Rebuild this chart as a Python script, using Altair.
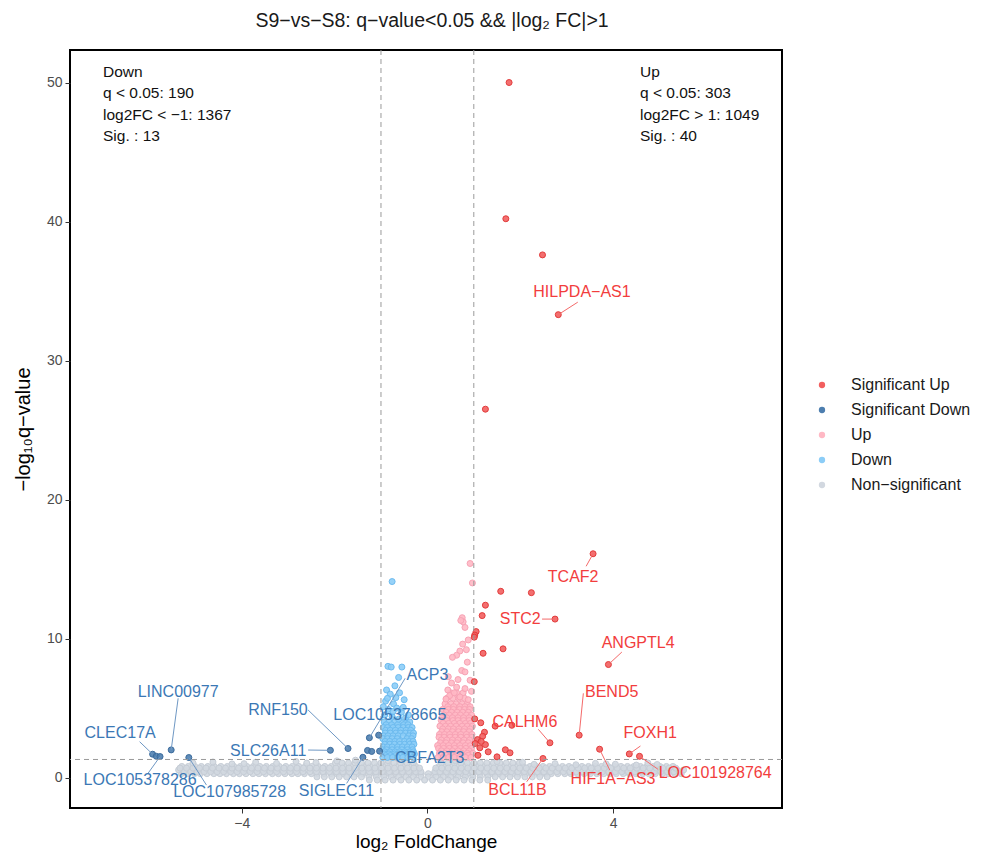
import altair as alt
import pandas as pd

# ---------------- data ----------------
groups_order = ["Significant Up", "Significant Down", "Up", "Down", "Non−significant"]
fill_colors = ["#F25F5F", "#4D7EAF", "#FFB8C4", "#8CCDF7", "#D2D8E0"]
stroke_colors = ["#E23B3B", "#3B6B9C", "#F7A3B5", "#6DBBEF", "#C6CDD6"]

# significant up (40)
sig_up_x = [1.76, 1.69, 2.48, 2.82, 1.25, 3.57, 1.58, 2.24, 1.25, 1.18, 2.75, 1.05, 1.02, 1.01,
            1.63, 1.20, 3.90, 1.01, 1.02, 1.15, 1.46, 1.82, 3.27, 1.23, 1.19, 1.08, 1.03, 1.25,
            1.13, 2.64, 1.68, 1.78, 1.50, 1.09, 3.71, 4.35, 4.57, 2.49, 1.31, 1.16]
sig_up_y = [50.0, 40.2, 37.6, 33.3, 26.5, 16.1, 13.4, 13.3, 12.4, 11.65, 11.4, 10.5, 10.25, 10.1,
            9.26, 8.94, 8.13, 6.9, 4.22, 3.94, 3.7, 3.76, 3.05, 3.26, 2.97, 2.73, 2.45, 2.37,
            2.14, 2.5, 2.0, 1.78, 1.49, 1.6, 2.04, 1.7, 1.53, 1.37, 1.85, 2.6]

# significant down (13)
sig_dn_x = [-5.92, -5.84, -5.76, -5.52, -5.14, -2.09, -1.71, -1.39, -1.29, -1.20, -1.03, -1.25, -1.05]
sig_dn_y = [1.68, 1.53, 1.51, 1.99, 1.44, 1.96, 2.09, 1.46, 1.95, 1.88, 1.90, 2.86, 3.05]

# down (q<0.05, -1<FC<0): sparse points + dense rows
down_sparse_x = [-0.76, -0.85, -0.78, -0.55, -0.62, -0.70, -0.88, -0.80, -0.60, -0.50, -0.90, -0.73,
                 -0.66, -0.84, -0.56, -0.92, -0.76, -0.47, -0.62, -0.95, -0.68, -0.52, -0.86,
                 -0.41, -0.74]
down_sparse_y = [14.1, 8.0, 7.95, 7.95, 7.2, 6.6, 6.3, 6.0, 6.1, 5.6, 5.5, 5.3,
                 5.0, 4.9, 4.7, 4.5, 4.4, 4.3, 4.2, 5.1, 5.75, 5.05, 5.7, 4.5, 4.75]
down_rows_y = [4.0, 3.8, 3.6, 3.4, 3.2, 3.0, 2.8, 2.6, 2.4, 2.2, 2.0, 1.85, 1.7, 1.58, 1.45]
down_rows_x = [
    [-0.93, -0.83, -0.70, -0.58, -0.45, -0.38],
    [-0.89, -0.77, -0.64, -0.51, -0.42],
    [-0.95, -0.86, -0.74, -0.63, -0.52, -0.41, -0.33],
    [-0.90, -0.80, -0.69, -0.57, -0.46, -0.36],
    [-0.91, -0.80, -0.68, -0.58, -0.47, -0.37, -0.30],
    [-0.94, -0.85, -0.74, -0.63, -0.52, -0.40, -0.31],
    [-0.96, -0.86, -0.76, -0.65, -0.44, -0.34],
    [-0.91, -0.81, -0.70, -0.60, -0.49, -0.39, -0.31],
    [-0.92, -0.81, -0.71, -0.59, -0.49, -0.38, -0.29],
    [-0.95, -0.86, -0.76, -0.64, -0.54, -0.43, -0.33],
    [-0.97, -0.88, -0.76, -0.65, -0.55, -0.43, -0.32],
    [-0.92, -0.81, -0.70, -0.60, -0.49, -0.38, -0.30],
    [-0.93, -0.83, -0.71, -0.61, -0.49, -0.38, -0.28],
    [-0.90, -0.80, -0.69, -0.58, -0.47, -0.36],
    [-0.96, -0.86, -0.75, -0.64, -0.53, -0.42, -0.31],
]

# up (q<0.05, 0<FC<1)
up_sparse_x = [0.92, 0.97, 0.75, 0.77, 0.72, 0.81, 0.88, 0.84, 0.70, 0.63, 0.54, 0.74, 0.81,
               0.45, 0.92, 0.52, 0.63, 0.81, 0.88, 0.48, 0.58, 0.70, 0.40, 0.95, 0.66, 0.86,
               0.44, 0.76]
up_sparse_y = [15.4, 14.0, 11.5, 11.2, 11.3, 10.8, 9.9, 9.2, 9.1, 8.8, 8.65, 7.7, 7.6,
               7.25, 7.0, 6.8, 6.5, 6.4, 5.6, 5.9, 6.1, 5.8, 5.65, 6.2, 7.05, 8.3, 6.3, 9.6]
up_rows_y = [6.1, 5.7, 5.3, 5.1, 4.9, 4.7, 4.5, 4.3, 4.1, 3.9, 3.7, 3.5, 3.3, 3.1, 2.9, 2.7,
             2.5, 2.3, 2.1, 1.92, 1.75, 1.6, 1.45]
up_rows_x = [
    [0.50, 0.63, 0.77],
    [0.42, 0.55, 0.68, 0.80],
    [0.38, 0.51, 0.62, 0.75, 0.86],
    [0.44, 0.57, 0.70, 0.81, 0.92],
    [0.33, 0.45, 0.56, 0.69, 0.80, 0.91],
    [0.40, 0.52, 0.64, 0.76, 0.88],
    [0.36, 0.47, 0.60, 0.71, 0.84, 0.95],
    [0.31, 0.42, 0.54, 0.66, 0.78, 0.90],
    [0.30, 0.42, 0.55, 0.66, 0.78, 0.90],
    [0.34, 0.46, 0.58, 0.70, 0.82, 0.93],
    [0.27, 0.39, 0.50, 0.62, 0.75, 0.86, 0.97],
    [0.33, 0.45, 0.56, 0.68, 0.80, 0.92],
    [0.31, 0.42, 0.54, 0.67, 0.78, 0.90],
    [0.26, 0.37, 0.48, 0.60, 0.72, 0.84, 0.96],
    [0.25, 0.36, 0.49, 0.60, 0.72, 0.85, 0.96],
    [0.30, 0.42, 0.54, 0.66, 0.79, 0.91],
    [0.28, 0.40, 0.52, 0.64, 0.77, 0.88],
    [0.22, 0.34, 0.46, 0.58, 0.70, 0.82, 0.93],
    [0.24, 0.35, 0.47, 0.59, 0.71, 0.83, 0.95],
    [0.30, 0.42, 0.54, 0.66, 0.78, 0.90],
    [0.26, 0.38, 0.50, 0.62, 0.74, 0.86, 0.98],
    [0.29, 0.40, 0.52, 0.64, 0.76, 0.88],
    [0.23, 0.34, 0.46, 0.58, 0.70, 0.82, 0.94],
]

# non-significant cloud (estimated rows of the dense band)
gray_rows_y = [0.28, 0.55, 0.80, 1.05, 0.05, -0.18, 0.42, 0.68]
gray_rows_x = [
    [-5.30, -5.17, -5.02, -4.89, -4.75, -4.60, -4.47, -4.33, -4.18, -4.05, -3.91, -3.76, -3.63,
     -3.49, -3.34, -3.21, -3.07, -2.92, -2.79, -2.65, -2.50, -2.37, -2.23, -2.08, -1.95, -1.81,
     -1.66, -1.53, -1.39, -1.24, -1.11, -0.97, -0.82, -0.69, -0.55, -0.40, -0.27, -0.13, 0.02,
     0.15, 0.29, 0.44, 0.57, 0.71, 0.86, 0.99, 1.13, 1.28, 1.41, 1.55, 1.70, 1.83, 1.97, 2.12,
     2.25, 2.39, 2.54, 2.67, 2.81, 2.96, 3.09, 3.23, 3.38, 3.51, 3.65, 3.80, 3.93, 4.07, 4.22,
     4.35, 4.49, 4.64, 4.77, 4.91, 5.06, 5.19, 5.33, 5.47],
    [-5.36, -5.23, -5.09, -4.95, -4.82, -4.68, -4.54, -4.40, -4.26, -4.12, -3.98, -3.84, -3.70,
     -3.56, -3.42, -3.28, -3.14, -3.00, -2.86, -2.72, -2.58, -2.44, -2.30, -2.16, -2.02, -1.88,
     -1.74, -1.60, -1.46, -1.32, -1.18, -1.04, -0.90, -0.76, -0.62, -0.48, -0.34, -0.20, 0.20,
     0.34, 0.48, 0.62, 0.76, 0.90, 1.04, 1.18, 1.32, 1.46, 1.60, 1.74, 1.88, 2.02, 2.16, 2.30,
     2.44, 2.58, 2.72, 2.86, 3.00, 3.14, 3.28, 3.42, 3.56, 3.70, 3.84, 3.98, 4.12, 4.26, 4.40,
     4.54, 4.68, 4.82, 4.96, 5.10, 5.24, 5.38, 5.52],
    [-5.29, -5.15, -5.01, -4.87, -4.73, -4.59, -4.45, -4.31, -4.17, -4.03, -3.89, -3.75, -3.61,
     -3.47, -3.33, -3.19, -3.05, -2.91, -2.77, -2.63, -2.49, -2.35, -2.21, -2.07, -1.93, -1.79,
     -1.65, -1.51, -1.37, -1.23, -1.09, -0.95, -0.81, -0.67, -0.53, -0.39, -0.25, 0.25, 0.39,
     0.53, 0.67, 0.81, 0.95, 1.09, 1.23, 1.37, 1.51, 1.65, 1.79, 1.93, 2.07, 2.21, 2.35, 2.49,
     2.63, 2.77, 2.91, 3.05, 3.19, 3.33, 3.47, 3.61, 3.75, 3.89, 4.03, 4.17, 4.31, 4.45, 4.59,
     4.73, 4.87, 5.01, 5.15, 5.29],
    [-1.98, -1.84, -1.70, -1.56, -1.42, -1.28, -1.14, -1.00, -0.86, -0.72, -0.58, -0.44, -0.30,
     0.30, 0.44, 0.58, 0.72, 0.86, 1.00, 1.14, 1.28, 1.42, 1.56, 1.70, 1.84, 1.98],
    [-2.38, -2.22, -2.06, -1.90, -1.74, -1.58, -1.42, -1.26, -1.10, -0.94, -0.78, -0.62, -0.46,
     -0.30, -0.14, 0.02, 0.18, 0.34, 0.50, 0.66, 0.82, 0.98, 1.14, 1.30, 1.46, 1.62, 1.78, 1.94,
     2.10, 2.26, 2.42, 2.58],
    [-1.25, -1.08, -0.91, -0.74, -0.57, -0.40, -0.23, -0.06, 0.11, 0.28, 0.45, 0.62, 0.79, 0.96,
     1.13, 1.30],
    [-5.24, -5.10, -4.96, -4.81, -4.67, -4.53, -4.39, -4.24, -4.10, -3.96, -3.82, -3.67, -3.53,
     -3.39, -3.25, -3.10, -2.96, -2.82, -2.68, -2.53, -2.39, -2.25, -2.11, -1.96, -1.82, -1.68,
     -1.54, -1.39, -1.25, -1.11, -0.97, -0.82, -0.68, -0.54, -0.40, -0.25, -0.14, 0.16, 0.27,
     0.41, 0.55, 0.69, 0.83, 0.97, 1.11, 1.25, 1.39, 1.53, 1.67, 1.81, 1.95, 2.09, 2.23, 2.37,
     2.51, 2.65, 2.79, 2.93, 3.07, 3.21, 3.35, 3.49, 3.63, 3.77, 3.91, 4.05, 4.19, 4.33, 4.47,
     4.61, 4.75, 4.89, 5.03, 5.17, 5.31, 5.43],
    [-5.33, -5.19, -5.05, -4.91, -4.77, -4.63, -4.49, -4.35, -4.21, -4.07, -3.93, -3.79, -3.65,
     -3.51, -3.37, -3.23, -3.09, -2.95, -2.81, -2.67, -2.53, -2.39, -2.25, -2.11, -1.97, -1.83,
     -1.69, -1.55, -1.41, -1.27, -1.13, -0.99, -0.85, -0.71, -0.57, -0.43, -0.29, -0.17, 0.18,
     0.31, 0.45, 0.59, 0.73, 0.87, 1.01, 1.15, 1.29, 1.43, 1.57, 1.71, 1.85, 1.99, 2.13, 2.27,
     2.41, 2.55, 2.69, 2.83, 2.97, 3.11, 3.25, 3.39, 3.53, 3.67, 3.81, 3.95, 4.09, 4.23, 4.37,
     4.51, 4.65, 4.79, 4.93, 5.07, 5.21, 5.35],
]
gray_top_x = [-5.05, -4.62, -4.21, -3.70, -3.25, -2.83, -2.40, -1.95, 2.30, 2.75, 3.20, 3.62,
              4.05, 4.50, 4.95, -1.55, -0.85, 0.60, 1.50, -3.95, -2.60, 2.05, 3.85, 4.75]
gray_top_y = [1.05, 1.12, 0.98, 1.10, 1.02, 1.15, 1.08, 1.20, 0.95, 1.00, 0.92, 1.02,
              0.96, 0.90, 0.94, 1.25, 1.22, 1.22, 1.15, 1.00, 1.04, 1.10, 0.98, 1.05]

# labelled genes
up_labels = ["HILPDA−AS1", "TCAF2", "STC2", "ANGPTL4", "BEND5", "CALHM6", "FOXH1",
             "HIF1A−AS3", "LOC101928764", "BCL11B"]
up_lab_x = [3.33, 3.14, 2.00, 4.54, 3.97, 2.10, 4.80, 4.00, 6.20, 1.94]
up_lab_y = [34.9, 14.4, 11.4, 9.7, 6.17, 4.01, 3.22, -0.13, 0.30, -0.90]
up_seg_x = [3.24, 3.42, 2.47, 4.19, 3.36, 2.39, 4.59, 3.93, 4.97, 2.14]
up_seg_y = [34.2, 15.2, 11.4, 9.03, 6.06, 3.47, 2.27, 0.54, 0.59, -0.30]
up_pt_x = [2.82, 3.57, 2.75, 3.90, 3.27, 2.64, 4.35, 3.71, 4.57, 2.49]
up_pt_y = [33.3, 16.1, 11.4, 8.13, 3.05, 2.50, 1.70, 2.04, 1.53, 1.37]

dn_labels = ["CLEC17A", "LINC00977", "LOC105378286", "LOC107985728", "SLC26A11", "RNF150",
             "LOC105378665", "ACP3", "CBFA2T3", "SIGLEC11"]
dn_lab_x = [-6.62, -5.37, -6.19, -4.26, -3.43, -3.22, -0.81, 0.00, 0.05, -1.96]
dn_lab_y = [3.20, 6.13, -0.18, -1.02, 1.93, 4.86, 4.50, 7.40, 1.40, -1.00]
dn_seg_x = [-6.20, -5.37, -6.02, -4.76, -2.57, -2.57, -1.05, -0.48, -0.92, -1.74]
dn_seg_y = [2.58, 5.70, 0.30, -0.54, 1.98, 4.86, 3.05, 7.14, 1.55, -0.42]
dn_pt_x = [-5.92, -5.52, -5.76, -5.14, -2.09, -1.71, -1.05, -1.25, -1.03, -1.39]
dn_pt_y = [1.68, 1.99, 1.51, 1.44, 1.96, 2.09, 3.05, 2.86, 1.90, 1.46]

down_stats = "Down\nq < 0.05: 190\nlog2FC < −1: 1367\nSig. : 13"
up_stats = "Up\nq < 0.05: 303\nlog2FC > 1: 1049\nSig. : 40"

fc_lines = [-1, 1]
q_line = [1.301]

# ---------------- build tables ----------------
rows = []


def add(group, xs, ys):
    for x, y in zip(xs, ys):
        rows.append({"fc": x, "q": y, "group": group})


for yy, xs in zip(gray_rows_y, gray_rows_x):
    add("Non−significant", xs, [yy] * len(xs))
add("Non−significant", gray_top_x, gray_top_y)
for yy, xs in zip(down_rows_y, down_rows_x):
    add("Down", xs, [yy] * len(xs))
add("Down", down_sparse_x, down_sparse_y)
for yy, xs in zip(up_rows_y, up_rows_x):
    add("Up", xs, [yy] * len(xs))
add("Up", up_sparse_x, up_sparse_y)
add("Significant Down", sig_dn_x, sig_dn_y)
add("Significant Up", sig_up_x, sig_up_y)
df = pd.DataFrame(rows)
df["ord"] = range(len(df))

up_lab = pd.DataFrame({"label": up_labels, "lx": up_lab_x, "ly": up_lab_y,
                       "sx": up_seg_x, "sy": up_seg_y, "px": up_pt_x, "py": up_pt_y})
dn_lab = pd.DataFrame({"label": dn_labels, "lx": dn_lab_x, "ly": dn_lab_y,
                       "sx": dn_seg_x, "sy": dn_seg_y, "px": dn_pt_x, "py": dn_pt_y})

FONT = "Liberation Sans"
xscale = alt.Scale(domain=[-7.70, 7.64], nice=False, zero=False)
yscale = alt.Scale(domain=[-2.19, 52.34], nice=False, zero=False)
xaxis = alt.Axis(values=[-4, 0, 4], grid=False, domain=False, ticks=True, tickSize=5,
                 tickColor="#333333", labelFontSize=14, labelColor="#4D4D4D", labelFont=FONT,
                 titleFontSize=19, titleFont=FONT, titleFontWeight="normal", titleColor="#000000",
                 titlePadding=2, labelPadding=3)
yaxis = alt.Axis(values=[0, 10, 20, 30, 40, 50], grid=False, domain=False, ticks=True, tickSize=5,
                 tickColor="#333333", labelFontSize=14, labelColor="#4D4D4D", labelFont=FONT,
                 titleFontSize=20, titleFont=FONT, titleFontWeight="normal", titleColor="#000000",
                 titlePadding=13, labelPadding=3)
XT = "log₂ FoldChange"
YT = "−log₁₀q−value"


def X(f):
    return alt.X(f, type="quantitative", scale=xscale, axis=xaxis, title=XT)


def Y(f):
    return alt.Y(f, type="quantitative", scale=yscale, axis=yaxis, title=YT)


points = alt.Chart(df).mark_point(shape="circle", size=36, strokeWidth=1, opacity=1,
                                  fillOpacity=0.9).encode(
    x=X("fc"), y=Y("q"),
    fill=alt.Fill("group:N", scale=alt.Scale(domain=groups_order, range=fill_colors),
                  legend=alt.Legend(title=None, orient="none", legendX=744, legendY=327,
                                    labelFontSize=16, labelFont=FONT, labelColor="#1A1A1A",
                                    symbolType="circle", symbolSize=40, labelOffset=21,
                                    rowPadding=9, padding=0, symbolStrokeWidth=0)),
    stroke=alt.Stroke("group:N", scale=alt.Scale(domain=groups_order, range=stroke_colors),
                      legend=None),
    order=alt.Order("ord:Q"),
)

vlines = alt.Chart(pd.DataFrame({"v": fc_lines})).mark_rule(
    color="#9A9A9A", strokeDash=[5, 4], strokeWidth=1).encode(x=X("v"))
hline = alt.Chart(pd.DataFrame({"h": q_line})).mark_rule(
    color="#9A9A9A", strokeDash=[5, 4], strokeWidth=1).encode(y=Y("h"))

up_seg = alt.Chart(up_lab).mark_rule(color="#F46A6A", strokeWidth=1).encode(
    x=X("sx"), y=Y("sy"), x2="px:Q", y2="py:Q")
dn_seg = alt.Chart(dn_lab).mark_rule(color="#6F98C4", strokeWidth=1).encode(
    x=X("sx"), y=Y("sy"), x2="px:Q", y2="py:Q")
up_txt = alt.Chart(up_lab).mark_text(font=FONT, fontSize=16, color="#F23D3D").encode(
    x=X("lx"), y=Y("ly"), text="label:N")
dn_txt = alt.Chart(dn_lab).mark_text(font=FONT, fontSize=16, color="#3B78B5").encode(
    x=X("lx"), y=Y("ly"), text="label:N")

down_note = alt.Chart(pd.DataFrame({"t": [down_stats]})).mark_text(
    font=FONT, fontSize=15.5, color="#111111", align="left", baseline="top",
    lineBreak="\n", lineHeight=21.3).encode(x=alt.value(33), y=alt.value(15), text="t:N")
up_note = alt.Chart(pd.DataFrame({"t": [up_stats]})).mark_text(
    font=FONT, fontSize=15.5, color="#111111", align="left", baseline="top",
    lineBreak="\n", lineHeight=21.3).encode(x=alt.value(570), y=alt.value(15), text="t:N")

chart = alt.layer(points, vlines, hline, up_seg, dn_seg, up_txt, dn_txt, down_note, up_note).properties(
    width=712, height=758,
    title=alt.TitleParams(text="S9−vs−S8: q−value<0.05 && |log₂ FC|>1", font=FONT, fontSize=19.5,
                          fontWeight="normal", color="#1A1A1A", anchor="middle", offset=18, dx=6),
    padding={"left": 62, "top": 42, "right": 191, "bottom": 44},
    autosize=alt.AutoSizeParams(type="none"),
).configure(background="white").configure_view(stroke="#000000", strokeWidth=2)

chart.save("out.html", embed_options={"renderer": "svg", "actions": False})
